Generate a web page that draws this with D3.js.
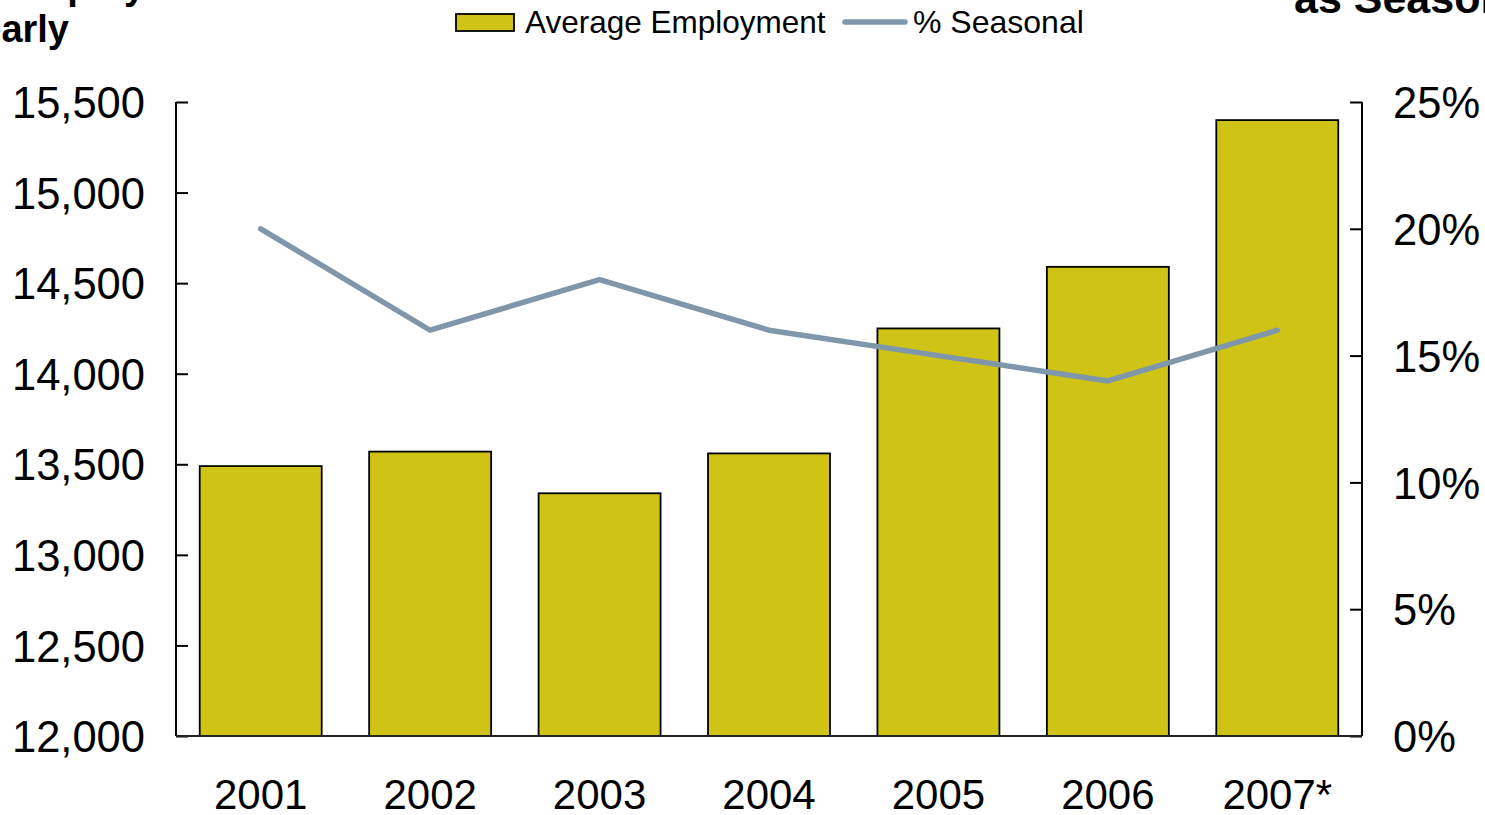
<!DOCTYPE html>
<html>
<head>
<meta charset="utf-8">
<script src="https://cdn.jsdelivr.net/npm/d3@7"></script>
<style>
  html, body { margin: 0; padding: 0; background: #fff; overflow: hidden; }
  svg { display: block; font-family: "Liberation Sans", Arial, sans-serif; }
</style>
</head>
<body>
<svg id="chart" width="1485" height="815"></svg>
<script>
// Yearly average employment and share of seasonal jobs
const years = ["2001", "2002", "2003", "2004", "2005", "2006", "2007*"];
const avgEmployment = [13490, 13570, 13340, 13560, 14250, 14590, 15400];
const pctSeasonal = [0.20, 0.16, 0.18, 0.16, 0.15, 0.14, 0.16];
const leftTicks = [12000, 12500, 13000, 13500, 14000, 14500, 15000, 15500];
const rightTicks = [0, 0.05, 0.10, 0.15, 0.20, 0.25];

const svg = d3.select("#chart");
const plot = { left: 176, right: 1362, top: 102, bottom: 736 };

const x = d3.scaleBand().domain(years).range([plot.left, plot.right])
  .paddingInner(0.28).paddingOuter(0.14);
const yL = d3.scaleLinear().domain([12000, 15500]).range([plot.bottom, plot.top]);
const yR = d3.scaleLinear().domain([0, 0.25]).range([plot.bottom, plot.top]);

// Bars
svg.append("g").selectAll("rect").data(avgEmployment).join("rect")
  .attr("x", (d, i) => x(years[i]))
  .attr("y", d => yL(d))
  .attr("width", x.bandwidth())
  .attr("height", d => yL(12000) - yL(d))
  .attr("fill", "#cfc415")
  .attr("stroke", "#000")
  .attr("stroke-width", 1.8);

// Seasonal share line
const line = d3.line()
  .x((d, i) => x(years[i]) + x.bandwidth() / 2)
  .y(d => yR(d));
svg.append("path").datum(pctSeasonal)
  .attr("d", line)
  .attr("fill", "none")
  .attr("stroke", "#7f96ab")
  .attr("stroke-width", 5.5)
  .attr("stroke-linejoin", "round")
  .attr("stroke-linecap", "round");

const tickFont = 43.5;

// Left axis (ticks point inward)
const leftAxis = d3.axisLeft(yL).tickValues(leftTicks)
  .tickSize(-12).tickPadding(31).tickFormat(d3.format(","));
const gL = svg.append("g").attr("transform", `translate(${plot.left},0)`).call(leftAxis);
gL.select(".domain").attr("stroke", "#000").attr("stroke-width", 2).attr("d", `M0,${plot.top}V${plot.bottom}`);
gL.selectAll(".tick line").attr("stroke", "#000").attr("stroke-width", 2);
gL.selectAll(".tick text").attr("font-size", tickFont).attr("fill", "#000")
  .attr("font-family", "Liberation Sans, Arial, sans-serif").attr("dy", "0.36em");

// Right axis (ticks point inward)
const rightAxis = d3.axisRight(yR).tickValues(rightTicks)
  .tickSize(-12).tickPadding(31).tickFormat(d3.format(".0%"));
const gR = svg.append("g").attr("transform", `translate(${plot.right},0)`).call(rightAxis);
gR.select(".domain").attr("stroke", "#000").attr("stroke-width", 2).attr("d", `M0,${plot.top}V${plot.bottom}`);
gR.selectAll(".tick line").attr("stroke", "#000").attr("stroke-width", 2);
gR.selectAll(".tick text").attr("font-size", tickFont).attr("fill", "#000")
  .attr("font-family", "Liberation Sans, Arial, sans-serif").attr("dy", "0.36em");

// Category axis
const bottomAxis = d3.axisBottom(x).tickSize(0).tickPadding(43);
const gB = svg.append("g").attr("transform", `translate(0,${plot.bottom})`).call(bottomAxis);
gB.select(".domain").attr("stroke", "#222").attr("stroke-width", 2).attr("d", `M${plot.left},0H${plot.right}`);
gB.selectAll(".tick text").attr("font-size", 42).attr("fill", "#000")
  .attr("font-family", "Liberation Sans, Arial, sans-serif");

// Axis titles
const titleL = svg.append("text").attr("font-size", 38).attr("font-weight", "bold").attr("fill", "#000");
titleL.append("tspan").attr("x", 8).attr("y", -1).text("Employment");
titleL.append("tspan").attr("x", 69).attr("y", 42).attr("text-anchor", "end").text("Yearly");
svg.append("text").attr("x", 1294).attr("y", 13)
  .attr("font-size", 43).attr("font-weight", "bold").attr("fill", "#000")
  .text("as Seasonal");

// Legend
const legend = svg.append("g");
legend.append("rect").attr("x", 456).attr("y", 14).attr("width", 58).attr("height", 17)
  .attr("fill", "#cfc415").attr("stroke", "#000").attr("stroke-width", 1.8);
legend.append("text").attr("x", 525).attr("y", 33).attr("font-size", 31.5).attr("fill", "#000")
  .text("Average Employment");
legend.append("line").attr("x1", 845).attr("x2", 905).attr("y1", 22).attr("y2", 22)
  .attr("stroke", "#7f96ab").attr("stroke-width", 5.5).attr("stroke-linecap", "round");
legend.append("text").attr("x", 913).attr("y", 33).attr("font-size", 32).attr("fill", "#000")
  .text("% Seasonal");
</script>
</body>
</html>
